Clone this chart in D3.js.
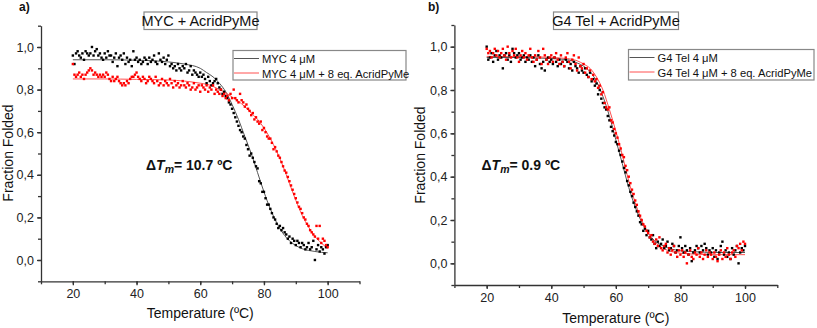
<!DOCTYPE html>
<html>
<head>
<meta charset="utf-8">
<script src="https://cdn.jsdelivr.net/npm/d3@7"></script>
<style>
  body { margin: 0; background: #fff; }
  svg { font-family: "Liberation Sans", Arial, sans-serif; }
  .axis path, .axis line { stroke: #333; stroke-width: 1.3; }
  .axis text { font-size: 12.5px; fill: #222; }
</style>
</head>
<body>
<div id="chart"></div>
<script>
// temperatures of the measured points, 20 to 100 ºC every 0.5 ºC
var temps = d3.range(20, 100.001, 0.5);

// panel a) MYC 4 uM
var mycFree = [
  0.96,0.92,0.97,0.98,0.96,0.95,0.97,0.94,0.98,0.97,0.96,0.97,1.00,0.96,0.98,0.99,0.96,0.97,0.95,0.94,
  0.97,0.95,0.98,0.96,0.96,0.93,0.95,0.97,0.91,0.95,0.96,0.94,0.97,0.92,0.95,0.93,0.94,0.91,0.98,0.94,
  0.95,0.93,0.94,0.92,0.93,0.95,0.94,0.92,0.95,0.93,0.94,0.96,0.93,0.92,0.97,0.94,0.93,0.95,0.92,0.94,
  0.96,0.91,0.92,0.90,0.91,0.89,0.92,0.90,0.89,0.91,0.90,0.92,0.88,0.89,0.91,0.87,0.89,0.88,0.87,0.86,
  0.88,0.86,0.87,0.85,0.83,0.86,0.84,0.82,0.83,0.84,0.85,0.83,0.81,0.80,0.78,0.79,0.77,0.76,0.74,0.73,
  0.71,0.69,0.67,0.65,0.63,0.61,0.60,0.58,0.57,0.54,0.52,0.49,0.50,0.48,0.46,0.44,0.43,0.37,0.36,0.32,
  0.32,0.29,0.26,0.26,0.24,0.22,0.20,0.19,0.17,0.15,0.16,0.14,0.15,0.13,0.12,0.10,0.11,0.08,0.10,0.09,
  0.07,0.09,0.08,0.06,0.08,0.07,0.05,0.06,0.08,0.05,0.06,0.09,0.00,0.05,0.07,0.04,0.06,0.05,0.03,0.06,
  0.07];
var mycLig = [
  0.92,0.87,0.86,0.87,0.88,0.86,0.87,0.85,0.87,0.88,0.89,0.90,0.89,0.87,0.88,0.87,0.86,0.87,0.86,0.87,
  0.86,0.88,0.87,0.85,0.84,0.86,0.84,0.85,0.86,0.84,0.83,0.82,0.83,0.82,0.84,0.83,0.85,0.86,0.86,0.87,
  0.88,0.86,0.85,0.84,0.86,0.85,0.83,0.84,0.86,0.85,0.84,0.83,0.86,0.84,0.82,0.83,0.85,0.82,0.84,0.83,
  0.82,0.85,0.83,0.81,0.84,0.82,0.83,0.81,0.82,0.84,0.82,0.81,0.83,0.82,0.80,0.81,0.83,0.80,0.81,0.82,
  0.79,0.82,0.81,0.80,0.82,0.79,0.81,0.80,0.82,0.78,0.80,0.79,0.78,0.80,0.77,0.78,0.76,0.77,0.75,0.78,
  0.76,0.80,0.76,0.75,0.74,0.78,0.75,0.74,0.72,0.73,0.71,0.70,0.68,0.69,0.66,0.67,0.65,0.64,0.65,0.61,
  0.62,0.60,0.58,0.57,0.57,0.55,0.52,0.53,0.51,0.49,0.48,0.46,0.44,0.42,0.41,0.39,0.37,0.35,0.33,0.31,
  0.29,0.27,0.25,0.24,0.22,0.20,0.19,0.17,0.16,0.14,0.13,0.12,0.11,0.16,0.10,0.16,0.08,0.10,0.09,0.07,
  0.06];

// fitted curves, panel a)
var fitTempsA = [20,30,40,50,55,60,62,64,66,68,70,72,74,76,78,80,82,84,86,88,90,92,94,96,98,100];
var mycFreeFit = [0.94,0.94,0.938,0.93,0.92,0.90,0.88,0.86,0.83,0.79,0.73,0.66,0.58,0.50,0.41,0.32,0.24,0.175,0.125,0.09,0.068,0.053,0.045,0.04,0.036,0.034];
var mycLigFit = [0.85,0.85,0.848,0.845,0.84,0.83,0.825,0.815,0.80,0.785,0.765,0.745,0.72,0.69,0.66,0.62,0.57,0.51,0.44,0.36,0.28,0.21,0.155,0.11,0.08,0.055];

// panel b) G4 Tel 4 uM
var telFree = [
  1.00,0.94,0.95,0.97,0.93,0.96,0.98,0.94,0.96,0.95,0.90,0.96,0.97,0.94,0.96,0.93,0.99,0.97,0.95,0.96,
  0.97,0.94,0.95,0.96,0.93,0.95,0.94,0.96,0.93,0.95,0.91,0.94,0.96,0.92,0.90,0.93,0.89,0.94,0.95,0.93,
  0.94,0.92,0.95,0.93,0.91,0.94,0.92,0.93,0.91,0.94,0.93,0.90,0.92,0.89,0.93,0.91,0.90,0.88,0.91,0.89,
  0.88,0.90,0.87,0.86,0.88,0.84,0.85,0.82,0.83,0.78,0.80,0.76,0.74,0.72,0.71,0.68,0.66,0.63,0.61,0.59,
  0.56,0.55,0.52,0.50,0.47,0.44,0.42,0.38,0.36,0.33,0.31,0.28,0.26,0.24,0.22,0.19,0.18,0.15,0.16,0.13,
  0.15,0.12,0.11,0.13,0.09,0.07,0.10,0.08,0.09,0.11,0.07,0.08,0.10,0.06,0.07,0.09,0.08,0.05,0.06,0.08,
  0.12,0.07,0.05,0.08,0.06,0.04,0.07,0.01,0.05,0.06,0.08,0.07,0.05,0.08,0.06,0.09,0.07,0.04,0.06,0.05,
  0.07,0.03,0.06,0.02,0.05,0.08,0.10,0.04,0.06,0.03,0.05,0.02,0.07,0.04,0.06,0.08,0.00,0.05,0.07,0.06,
  0.08];
var telLig = [
  0.99,0.97,0.98,0.95,0.97,0.99,0.96,0.98,0.95,0.97,0.99,0.96,0.94,1.00,0.97,0.95,0.98,0.96,0.99,0.95,
  0.93,0.96,0.98,0.95,0.97,0.94,0.96,0.99,0.95,0.93,0.96,0.94,0.98,0.95,0.92,0.99,0.96,0.94,0.92,0.95,
  0.96,0.93,0.95,0.97,0.94,0.92,0.96,0.93,0.91,0.95,0.97,0.93,0.90,0.94,0.96,0.92,0.89,0.95,0.91,0.90,
  0.92,0.88,0.90,0.86,0.89,0.85,0.87,0.84,0.85,0.81,0.82,0.78,0.79,0.74,0.72,0.71,0.72,0.66,0.65,0.62,
  0.60,0.58,0.55,0.53,0.50,0.49,0.45,0.43,0.40,0.37,0.34,0.32,0.29,0.27,0.24,0.22,0.20,0.18,0.17,0.15,
  0.14,0.12,0.13,0.10,0.09,0.11,0.08,0.12,0.07,0.06,0.08,0.09,0.05,0.07,0.04,0.06,0.08,0.05,0.03,0.06,
  0.04,0.06,0.03,0.05,0.00,0.04,0.06,0.03,0.02,0.05,0.04,0.07,0.03,0.05,0.02,0.04,0.06,0.03,0.05,0.04,
  0.02,0.05,0.03,0.01,0.04,0.06,0.02,0.05,0.03,0.07,0.04,0.02,0.05,0.06,0.03,0.08,0.07,0.09,0.06,0.10,
  0.09];

// fitted curves, panel b)
var fitTempsB = [20,30,40,45,48,50,52,54,56,58,60,62,64,66,68,70,72,74,76,80,85,90,100];
var telFreeFit = [0.95,0.95,0.945,0.94,0.925,0.91,0.885,0.84,0.77,0.68,0.57,0.46,0.35,0.26,0.19,0.14,0.105,0.085,0.072,0.058,0.053,0.05,0.05];
var telLigFit = [0.955,0.955,0.95,0.945,0.935,0.92,0.90,0.86,0.80,0.71,0.61,0.50,0.38,0.28,0.20,0.14,0.10,0.075,0.06,0.047,0.042,0.04,0.04];

var xTicks = [20, 40, 60, 80, 100];
var yTicks = [0, 0.2, 0.4, 0.6, 0.8, 1.0];

var svg = d3.select("#chart").append("svg")
  .attr("width", 817)
  .attr("height", 328);

function drawPanel(p) {
  var x = d3.scaleLinear().domain([10, 110]).range([p.left, p.right]);
  var y = d3.scaleLinear().domain([-0.1, 1.1]).range([p.bottom, p.top]);
  var fmt = function(d) { return d3.format(".1f")(d).replace(".", ","); };

  var g = svg.append("g");

  // minor ticks every 10 / 0.1
  var xMinor = d3.axisBottom(x).tickValues(d3.range(10, 111, 10)).tickSize(3).tickFormat("");
  var yMinor = d3.axisLeft(y).tickValues(d3.range(-0.1, 1.11, 0.1)).tickSize(3).tickFormat("");
  g.append("g").attr("class", "axis")
    .attr("transform", "translate(0," + p.bottom + ")").call(xMinor)
    .select(".domain").remove();
  g.append("g").attr("class", "axis")
    .attr("transform", "translate(" + p.left + ",0)").call(yMinor)
    .select(".domain").remove();

  var xAxis = d3.axisBottom(x).tickValues(xTicks).tickSizeInner(4).tickSizeOuter(0).tickPadding(4);
  var yAxis = d3.axisLeft(y).tickValues(yTicks).tickSizeInner(4).tickSizeOuter(0).tickPadding(3).tickFormat(fmt);
  g.append("g").attr("class", "axis")
    .attr("transform", "translate(0," + p.bottom + ")").call(xAxis);
  g.append("g").attr("class", "axis")
    .attr("transform", "translate(" + p.left + ",0)").call(yAxis);

  // fitted lines
  var line = d3.line().curve(d3.curveMonotoneX)
    .x(function(d) { return x(d[0]); })
    .y(function(d) { return y(d[1]); });
  g.append("path").datum(d3.zip(p.fitT, p.fitFree))
    .attr("d", line).attr("fill", "none").attr("stroke", "#555").attr("stroke-width", 1);
  g.append("path").datum(d3.zip(p.fitT, p.fitLig))
    .attr("d", line).attr("fill", "none").attr("stroke", "#ff5050").attr("stroke-width", 1);

  // measured points
  var s = 2.4;
  g.append("g").selectAll("rect").data(d3.zip(temps, p.free)).enter().append("rect")
    .attr("x", function(d) { return x(d[0]) - s / 2; })
    .attr("y", function(d) { return y(d[1]) - s / 2; })
    .attr("width", s).attr("height", s).attr("fill", "#000");
  g.append("g").selectAll("rect").data(d3.zip(temps, p.lig)).enter().append("rect")
    .attr("x", function(d) { return x(d[0]) - s / 2; })
    .attr("y", function(d) { return y(d[1]) - s / 2; })
    .attr("width", s).attr("height", s).attr("fill", "#f00");

  // title box
  g.append("rect")
    .attr("x", p.titleBox[0]).attr("y", p.titleBox[1])
    .attr("width", p.titleBox[2]).attr("height", p.titleBox[3])
    .attr("fill", "#fff").attr("stroke", "#888").attr("stroke-width", 1.2);
  g.append("text")
    .attr("x", p.titleBox[0] + p.titleBox[2] / 2).attr("y", p.titleBox[1] + 14)
    .attr("text-anchor", "middle").style("font-size", "14.5px").attr("fill", "#111")
    .text(p.title);

  // legend
  var lb = p.legendBox;
  g.append("rect")
    .attr("x", lb[0]).attr("y", lb[1]).attr("width", lb[2]).attr("height", lb[3])
    .attr("fill", "#fff").attr("stroke", "#888").attr("stroke-width", 1.2);
  [[p.legend[0], "#555", 8], [p.legend[1], "#ff5050", 22.5]].forEach(function(e) {
    g.append("line")
      .attr("x1", lb[0] + 1).attr("x2", lb[0] + 26)
      .attr("y1", lb[1] + e[2]).attr("y2", lb[1] + e[2])
      .attr("stroke", e[1]).attr("stroke-width", 1);
    g.append("text")
      .attr("x", lb[0] + 29).attr("y", lb[1] + e[2] + 4.5)
      .style("font-size", "11.2px").attr("fill", "#111")
      .text(e[0]);
  });

  // delta Tm annotation
  var t = g.append("text")
    .attr("x", p.dtm[0]).attr("y", p.dtm[1])
    .style("font-size", "14px").style("font-weight", "bold").attr("fill", "#111");
  t.append("tspan").text("\u0394");
  t.append("tspan").style("font-style", "italic").text("T");
  t.append("tspan").style("font-style", "italic").style("font-size", "10.5px")
    .attr("dy", 3).text("m");
  t.append("tspan").attr("dy", -3).text("= " + p.dtmText);

  // axis titles
  g.append("text")
    .attr("x", (p.left + p.right) / 2 + p.xTitleDx).attr("y", p.xTitleY)
    .attr("text-anchor", "middle").style("font-size", "14px").attr("fill", "#111")
    .text("Temperature (\u00BAC)");
  g.append("text")
    .attr("transform", "translate(" + p.yTitleX + "," + p.yTitleY + ") rotate(-90)")
    .attr("text-anchor", "middle").style("font-size", "14px").attr("fill", "#111")
    .text("Fraction Folded");

  // panel letter
  g.append("text")
    .attr("x", p.letter[0]).attr("y", p.letter[1])
    .style("font-size", "12px").style("font-weight", "bold").attr("fill", "#111")
    .text(p.letter[2]);
}

drawPanel({
  left: 41, right: 359.5, top: 25.7, bottom: 281.3,
  free: mycFree, lig: mycLig, fitT: fitTempsA, fitFree: mycFreeFit, fitLig: mycLigFit,
  title: "MYC + AcridPyMe", titleBox: [144, 12, 113, 17.5],
  legendBox: [233, 50.5, 173, 29.5],
  legend: ["MYC 4 \u03BCM", "MYC 4 \u03BCM + 8 eq. AcridPyMe"],
  dtm: [146, 170], dtmText: "10.7 \u00BAC",
  xTitleDx: 0, xTitleY: 318, yTitleX: 13, yTitleY: 153,
  letter: [19, 11, "a)"]
});

drawPanel({
  left: 454.4, right: 777.3, top: 25, bottom: 285,
  free: telFree, lig: telLig, fitT: fitTempsB, fitFree: telFreeFit, fitLig: telLigFit,
  title: "G4 Tel + AcridPyMe", titleBox: [553.5, 12, 125, 17.5],
  legendBox: [628.5, 49.5, 185.5, 30.5],
  legend: ["G4 Tel 4 \u03BCM", "G4 Tel 4 \u03BCM + 8 eq. AcridPyMe"],
  dtm: [481.5, 170], dtmText: "0.9 \u00BAC",
  xTitleDx: 0, xTitleY: 323, yTitleX: 425, yTitleY: 155,
  letter: [428, 11, "b)"]
});
</script>
</body>
</html>
